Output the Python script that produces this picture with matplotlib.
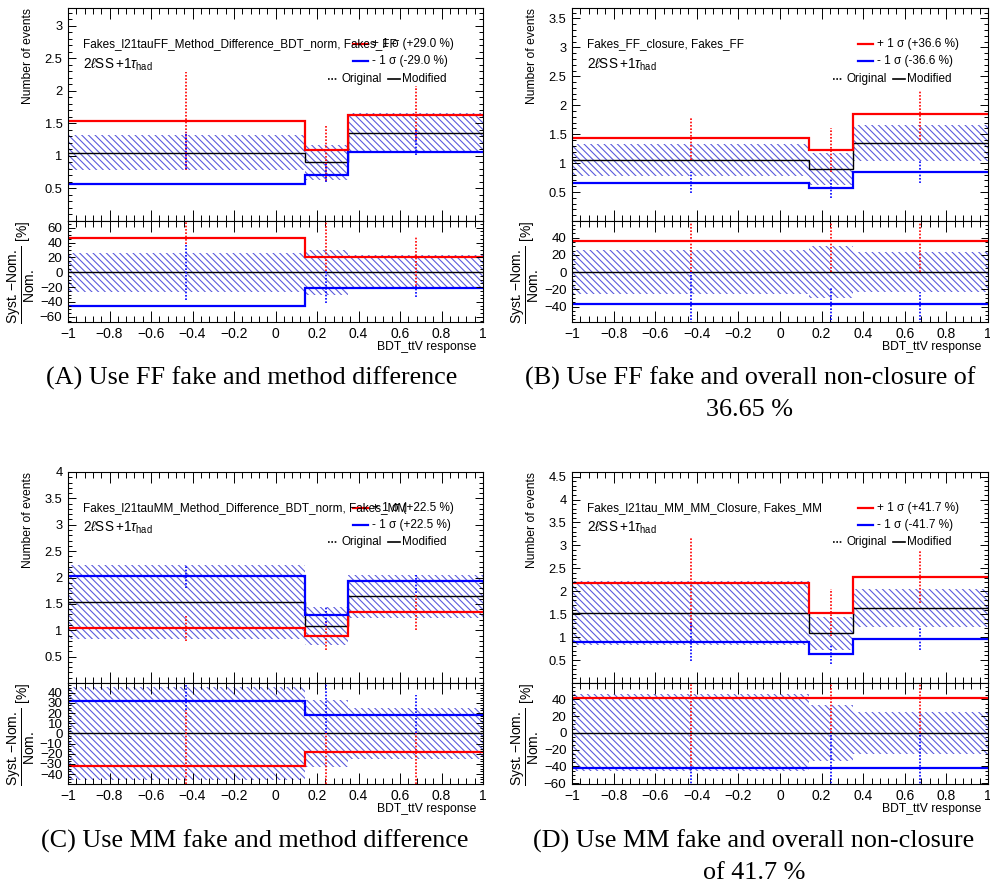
import matplotlib
matplotlib.use("Agg")
import matplotlib.pyplot as plt
from matplotlib.ticker import MultipleLocator, FuncFormatter
import numpy as np

plt.rcParams["font.family"] = ["Liberation Sans", "DejaVu Sans"]
plt.rcParams["mathtext.fontset"] = "custom"
plt.rcParams["mathtext.rm"] = "Liberation Sans"
plt.rcParams["mathtext.it"] = "Liberation Sans:italic"
plt.rcParams["mathtext.bf"] = "Liberation Sans:bold"
plt.rcParams["hatch.linewidth"] = 0.8

# binning of BDT_ttV response
EDGES = [-1.0, 0.14, 0.35, 1.0]
CENTERS = [-0.43, 0.245, 0.675]

# nominal fake yields and stat. band (in %)
NOM_FF = [1.05, 0.90, 1.35]
BAND_FF = [26, 30, 23]
NOM_MM = [1.53, 1.08, 1.64]
BAND_MM = [46, 33, 25]

# (A) FF, method difference
UP_A = [1.53, 1.09, 1.63]
DN_A = [0.57, 0.71, 1.06]
ORIG_UP_A = [(0.78, 2.29), (0.62, 1.47), (1.25, 2.08)]
ORIG_DN_A = [(0.80, 1.36), (0.60, 0.88), (1.02, 1.42)]
RATIO_UP_A = [(38, 90), (2, 90), (-18, 47)]
RATIO_DN_A = [(-38, 38), (-42, 2), (-33, -18)]

# (B) FF, overall non-closure
UP_B = [1.435, 1.23, 1.845]
DN_B = [0.665, 0.57, 0.855]
ORIG_UP_B = [(1.06, 1.80), (0.84, 1.60), (1.40, 2.26)]
ORIG_DN_B = [(0.49, 0.85), (0.39, 0.73), (0.66, 1.06)]
RATIO_UP_B = [(0, 90), (0, 90), (0, 90)]
RATIO_DN_B = [(-90, 0), (-90, -17), (-90, -23)]

# (C) MM, method difference
UP_C = [1.045, 0.885, 1.34]
DN_C = [2.02, 1.28, 1.93]
ORIG_UP_C = [(0.80, 1.29), (0.62, 1.15), (1.01, 1.67)]
ORIG_DN_C = [(1.80, 2.24), (1.09, 1.45), (1.70, 2.05)]
RATIO_UP_C = [(-60, 23), (-60, 0), (-60, 0)]
RATIO_DN_C = [(23, 60), (0, 60), (0, 38)]

# (D) MM, overall non-closure
UP_D = [2.17, 1.53, 2.32]
DN_D = [0.89, 0.63, 0.96]
ORIG_UP_D = [(1.15, 3.19), (1.02, 2.06), (1.74, 2.90)]
ORIG_DN_D = [(0.47, 1.33), (0.42, 0.86), (0.72, 1.20)]
RATIO_UP_D = [(-40, 80), (0, 80), (0, 80)]
RATIO_DN_D = [(-80, -40), (-80, 0), (-80, 0)]

NAMES = ["Fakes_l21tauFF_Method_Difference_BDT_norm, Fakes_FF",
         "Fakes_FF_closure, Fakes_FF",
         "Fakes_l21tauMM_Method_Difference_BDT_norm, Fakes_MM",
         "Fakes_l21tau_MM_MM_Closure, Fakes_MM"]
UP_LABELS = ["+ 1 σ (+29.0 %)", "+ 1 σ (+36.6 %)", "+ 1 σ (+22.5 %)", "+ 1 σ (+41.7 %)"]
DN_LABELS = ["- 1 σ (-29.0 %)", "- 1 σ (-36.6 %)", "- 1 σ (+22.5 %)", "- 1 σ (-41.7 %)"]
CAPTIONS = [["(A) Use FF fake and method difference"],
            ["(B) Use FF fake and overall non-closure of", "36.65 %"],
            ["(C) Use MM fake and method difference"],
            ["(D) Use MM fake and overall non-closure", "of 41.7 %"]]

HATCH_COLOR = "#5c5cdc"
HATCH = "\\" * 5
W, H = 990, 891


def rect(x0, x1, ytop, ybot):
    return [x0 / W, 1 - ybot / H, (x1 - x0) / W, (ybot - ytop) / H]


def num(v, pos=None):
    s = f"{round(v, 6) + 0.0:g}"
    return s.replace("-", "\u2212")


def num_nozero(v, pos=None):
    if abs(v) < 1e-9:
        return ""
    return num(v)


def style_axes(ax, ymajor, yminor, ylen):
    ax.set_xlim(EDGES[0], EDGES[-1])
    ax.xaxis.set_major_locator(MultipleLocator(0.2))
    ax.xaxis.set_minor_locator(MultipleLocator(0.04))
    ax.yaxis.set_major_locator(MultipleLocator(ymajor))
    ax.yaxis.set_minor_locator(MultipleLocator(yminor))
    ax.tick_params(which="both", direction="in", top=True, right=True, width=0.7)
    ax.tick_params(axis="x", which="major", length=8)
    ax.tick_params(axis="x", which="minor", length=4)
    ax.tick_params(axis="y", which="major", length=ylen, pad=4)
    ax.tick_params(axis="y", which="minor", length=ylen / 2)
    for sp in ax.spines.values():
        sp.set_linewidth(0.8)


def draw_band(ax, lo, hi):
    widths = np.diff(EDGES)
    ax.bar(EDGES[:-1], np.subtract(hi, lo), width=widths, bottom=lo, align="edge",
           facecolor="none", edgecolor=HATCH_COLOR, linewidth=0, hatch=HATCH)


def draw_errs(ax, up_err, dn_err):
    ax.vlines(CENTERS, [p[0] for p in up_err], [p[1] for p in up_err],
              colors="red", linestyles=(0, (1, 1)), lw=1.2)
    ax.vlines(CENTERS, [p[0] for p in dn_err], [p[1] for p in dn_err],
              colors="blue", linestyles=(0, (1, 1)), lw=1.2)


def draw_panel(x0, x1, ytop, ymid, ybot, nom, band, up, dn, orig_up, orig_dn,
               ratio_up, ratio_dn, ylim_top, ylim_bot, rstep, idx):
    fig = plt.gcf()
    ax = fig.add_axes(rect(x0, x1, ytop, ymid))
    rx = fig.add_axes(rect(x0, x1, ymid, ybot))

    # upper pad
    lo = [n * (1 - b / 100) for n, b in zip(nom, band)]
    hi = [n * (1 + b / 100) for n, b in zip(nom, band)]
    draw_band(ax, lo, hi)
    ax.stairs(nom, EDGES, color="black", lw=1.0, baseline=None)
    ax.stairs(up, EDGES, color="red", lw=1.6, baseline=None)
    ax.stairs(dn, EDGES, color="blue", lw=1.6, baseline=None)
    draw_errs(ax, orig_up, orig_dn)
    style_axes(ax, 0.5, 0.1, 6)
    ax.set_ylim(*ylim_top)
    ax.yaxis.set_major_formatter(FuncFormatter(num_nozero))
    ax.tick_params(labelbottom=False, labelsize=9.3)
    ax.set_ylabel("Number of events", fontsize=8.7, loc="top")
    ax.yaxis.set_label_coords(-0.082, 1.0)

    # legend-like texts
    t = ax.transAxes
    ax.text(0.037, 0.831, NAMES[idx], transform=t, fontsize=8.5, va="center")
    ax.text(0.037, 0.735, r"2$\ell$SS$\,$+1$\tau_{\mathrm{had}}$", transform=t,
            fontsize=9.8, va="center")
    ax.plot([0.687, 0.723], [0.831, 0.831], transform=t, color="red", lw=1.6)
    ax.text(0.733, 0.831, UP_LABELS[idx], transform=t, fontsize=8.5, va="center")
    ax.plot([0.687, 0.723], [0.750, 0.750], transform=t, color="blue", lw=1.6)
    ax.text(0.733, 0.750, DN_LABELS[idx], transform=t, fontsize=8.5, va="center")
    ax.plot([0.627, 0.651], [0.668, 0.668], transform=t, color="black", lw=1.2,
            ls=(0, (1, 1)))
    ax.text(0.660, 0.668, "Original", transform=t, fontsize=8.5, va="center")
    ax.plot([0.772, 0.801], [0.668, 0.668], transform=t, color="black", lw=1.2)
    ax.text(0.806, 0.668, "Modified", transform=t, fontsize=8.5, va="center")

    # ratio pad
    r_up = [(u - n) / n * 100 for u, n in zip(up, nom)]
    r_dn = [(d - n) / n * 100 for d, n in zip(dn, nom)]
    draw_band(rx, [-b for b in band], band)
    rx.stairs([0, 0, 0], EDGES, color="black", lw=1.0, baseline=None)
    rx.stairs(r_up, EDGES, color="red", lw=1.6, baseline=None)
    rx.stairs(r_dn, EDGES, color="blue", lw=1.6, baseline=None)
    draw_errs(rx, ratio_up, ratio_dn)
    style_axes(rx, rstep, rstep / 4, 5)
    rx.set_ylim(*ylim_bot)
    rx.xaxis.set_major_formatter(FuncFormatter(num))
    rx.yaxis.set_major_formatter(FuncFormatter(num))
    rx.tick_params(labelsize=10)
    rx.tick_params(axis="y", labelsize=9.6)
    rx.tick_params(axis="x", pad=3.5)
    rx.set_ylabel(r"$\dfrac{\mathrm{Syst.{-}Nom.}}{\mathrm{Nom.}}$ [%]", fontsize=10,
                  loc="top")
    rx.yaxis.set_label_coords(-0.075, 1.0)
    rx.set_xlabel("BDT_ttV response", fontsize=8.7, loc="right")
    rx.xaxis.set_label_coords(0.985, -0.19)


fig = plt.figure(figsize=(9.9, 8.91), dpi=100)

draw_panel(68, 483, 8, 221, 322, NOM_FF, BAND_FF, UP_A, DN_A, ORIG_UP_A, ORIG_DN_A,
           RATIO_UP_A, RATIO_DN_A, (0, 3.27), (-67, 69), 20, 0)
draw_panel(572, 988, 8, 221, 322, NOM_FF, BAND_FF, UP_B, DN_B, ORIG_UP_B, ORIG_DN_B,
           RATIO_UP_B, RATIO_DN_B, (0, 3.68), (-58, 59.5), 20, 1)
draw_panel(68, 483, 472, 683, 784, NOM_MM, BAND_MM, UP_C, DN_C, ORIG_UP_C, ORIG_DN_C,
           RATIO_UP_C, RATIO_DN_C, (0, 4.0), (-49.8, 49.5), 10, 2)
draw_panel(572, 988, 472, 683, 784, NOM_MM, BAND_MM, UP_D, DN_D, ORIG_UP_D, ORIG_DN_D,
           RATIO_UP_D, RATIO_DN_D, (0, 4.6), (-61, 59.5), 20, 3)

# captions
cap_pos = [(252, 378), (750, 378), (255, 841), (754, 841)]
for (cx, cy), lines in zip(cap_pos, CAPTIONS):
    for k, line in enumerate(lines):
        fig.text(cx / W, 1 - (cy + 32 * k) / H, line, ha="center", va="center",
                 fontsize=18.8, family="Liberation Serif")

fig.savefig("out.png", dpi=100)
